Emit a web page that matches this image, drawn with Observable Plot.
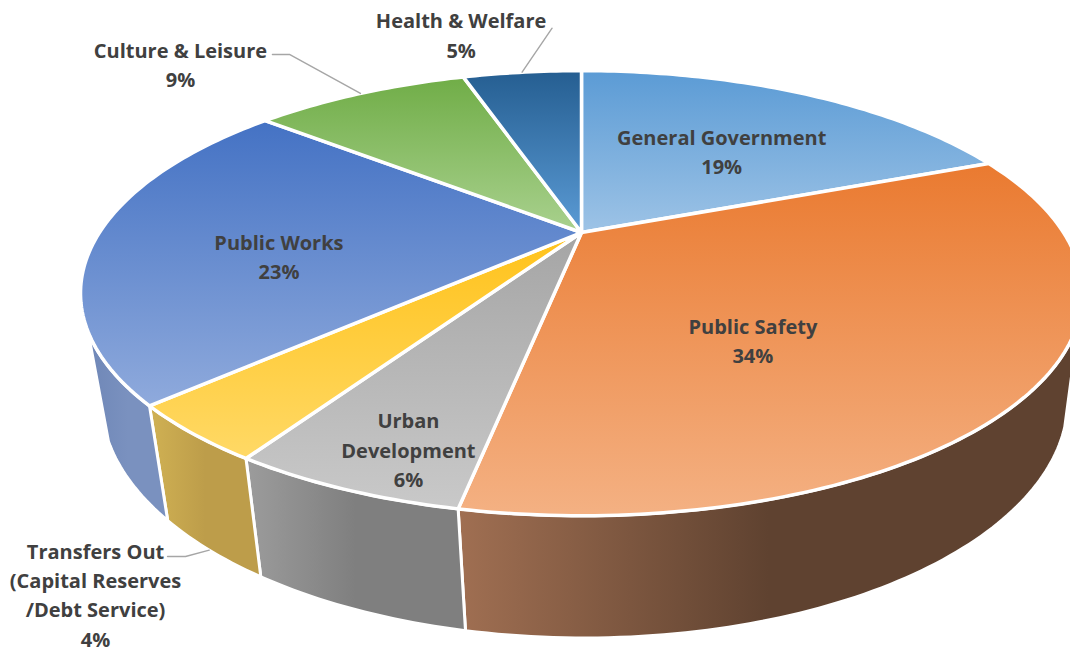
<!DOCTYPE html>
<html>
<head>
<meta charset="utf-8">
<title>General Fund expenditures by function</title>
<script src="https://cdn.jsdelivr.net/npm/d3@7"></script>
<script src="https://cdn.jsdelivr.net/npm/@observablehq/plot@0.6"></script>
<style>
  html, body { margin: 0; padding: 0; background: #fff; }
  svg { display: block; }
</style>
</head>
<body>
<div id="chart"></div>
<script>
// Budget shares, clockwise from twelve o'clock (percent).
const categories = [
  "General Government", "Public Safety", "Urban\nDevelopment",
  "Transfers Out\n(Capital Reserves\n/Debt Service)",
  "Public Works", "Culture & Leisure", "Health & Welfare"
];
const shares = [19, 34, 6, 4, 23, 9, 5];

// Top face gradients, top to bottom.
const faceStops = [
  ["#5b9bd5", "#9dc3e6"], ["#ea7a30", "#f4b183"], ["#a5a5a5", "#c9c9c9"],
  ["#ffc21a", "#ffd966"], ["#4472c4", "#8faadc"], ["#70ad47", "#a9d18e"],
  ["#255e91", "#5b9bd5"]
];
// Side wall gradients, left to right, for the slices that show a wall.
const wallStops = {
  1: ["#a06f52", "#5f4230", "#5f4230"],
  2: ["#9c9c9c", "#7f7f7f", "#7f7f7f"],
  3: ["#d0b153", "#bd9d4a", "#bd9d4a"],
  4: ["#6f87b7", "#7a91bf", "#7a91bf"]
};

// Where each label sits: a radial position on the slice's bisector plus a nudge.
const labelRadius = [0.6, 0.5, 0.8, 1, 0.6, 1, 1];
const labelNudge = [[-3, 8], [-32, 35], [5, 23.5], [-97, 160], [-12, 19], [-180, -30], [-61, -38.5]];
// Leader lines run from the rim to these offsets around the label.
const leaderOffsets = {
  3: [[90, -37], [72, -37]],
  5: [[109, -9], [92, -9]],
  6: [[91, -5.5]]
};

// Perspective projection of the pie disc: apex, scale and foreshortening.
const topFace = {cx: 581, cy: 232, a: 482, b: 206, k: 0.2727};
const bottomFace = {cx: 584, cy: 335, a: 465, b: 220, k: 0.2727};
// Turns at which the wall's outline leaves the rim on the right and on the left.
const wallStart = 0.311, wallEnd = 0.68;

function project(face, turn, r = 1) {
  const t = turn * 2 * Math.PI;
  const u = r * Math.sin(t), v = -r * Math.cos(t), w = 1 - face.k * v;
  return {x: face.cx + face.a * u / w, y: face.cy + face.b * v / w};
}
function arc(face, from, to) {
  const n = Math.max(2, Math.ceil((to - from) * 360));
  return d3.range(n + 1).map((i) => project(face, from + (to - from) * i / n));
}

const total = d3.sum(shares);
const ends = d3.cumsum(shares).map((s) => s / total);
const slices = categories.map((name, i) => ({
  name,
  share: shares[i],
  from: i ? ends[i - 1] : 0,
  to: ends[i],
  mid: ((i ? ends[i - 1] : 0) + ends[i]) / 2,
  index: i
}));

// Gradient definitions, referenced by the fills of the marks below.
function gradients() {
  const defs = d3.create("svg:defs");
  const add = (id, stops, horizontal) => {
    const g = defs.append("linearGradient").attr("id", id)
      .attr("x1", 0).attr("y1", 0)
      .attr("x2", horizontal ? 1 : 0).attr("y2", horizontal ? 0 : 1);
    stops.forEach((c, i) => g.append("stop")
      .attr("offset", i / (stops.length - 1)).attr("stop-color", c));
  };
  faceStops.forEach((s, i) => add(`face${i}`, s, false));
  Object.entries(wallStops).forEach(([i, s]) => add(`wall${i}`, s, true));
  return defs.node();
}

const wallMarks = Object.keys(wallStops).map(Number).map((i) => {
  const s = slices[i];
  const from = Math.max(s.from, wallStart), to = Math.min(s.to, wallEnd);
  const ring = [...arc(topFace, from, to), ...arc(bottomFace, from, to).reverse()];
  return Plot.line([...ring, ring[0]], {
    x: "x", y: "y", fill: `url(#wall${i})`, stroke: "white", strokeWidth: 3, strokeLinejoin: "round"
  });
});

const faceMarks = slices.map((s) => {
  const apex = project(topFace, 0, 0);
  const ring = [apex, ...arc(topFace, s.from, s.to), apex];
  return Plot.line(ring, {
    x: "x", y: "y", fill: `url(#face${s.index})`, stroke: "white", strokeWidth: 3.5, strokeLinejoin: "round"
  });
});

const labelAt = (s) => {
  const p = project(topFace, s.mid, labelRadius[s.index]);
  const [dx, dy] = labelNudge[s.index];
  return {x: p.x + dx, y: p.y + dy, text: `${s.name}\n${s.share}%`};
};

const leaderMarks = Object.entries(leaderOffsets).map(([i, offsets]) => {
  const s = slices[+i];
  const rim = project(s.index === 3 ? bottomFace : topFace, s.mid);
  const spot = labelAt(s);
  const path = [rim, ...offsets.map(([dx, dy]) => ({x: spot.x + dx, y: spot.y + dy}))];
  return Plot.line(path, {x: "x", y: "y", stroke: "#a6a6a6", strokeWidth: 1.4});
});

const chart = Plot.plot({
  width: 1070,
  height: 647,
  margin: 0,
  style: {background: "white"},
  x: {domain: [0, 1070], axis: null},
  y: {domain: [647, 0], axis: null},
  marks: [
    gradients,
    ...wallMarks,
    ...faceMarks,
    ...leaderMarks,
    Plot.text(slices.map(labelAt), {
      x: "x", y: "y", text: "text",
      fill: "#404040",
      fontFamily: "'Open Sans', sans-serif",
      fontSize: 20,
      fontWeight: 700,
      lineHeight: 1.46
    })
  ]
});
document.getElementById("chart").append(chart);
</script>
</body>
</html>
